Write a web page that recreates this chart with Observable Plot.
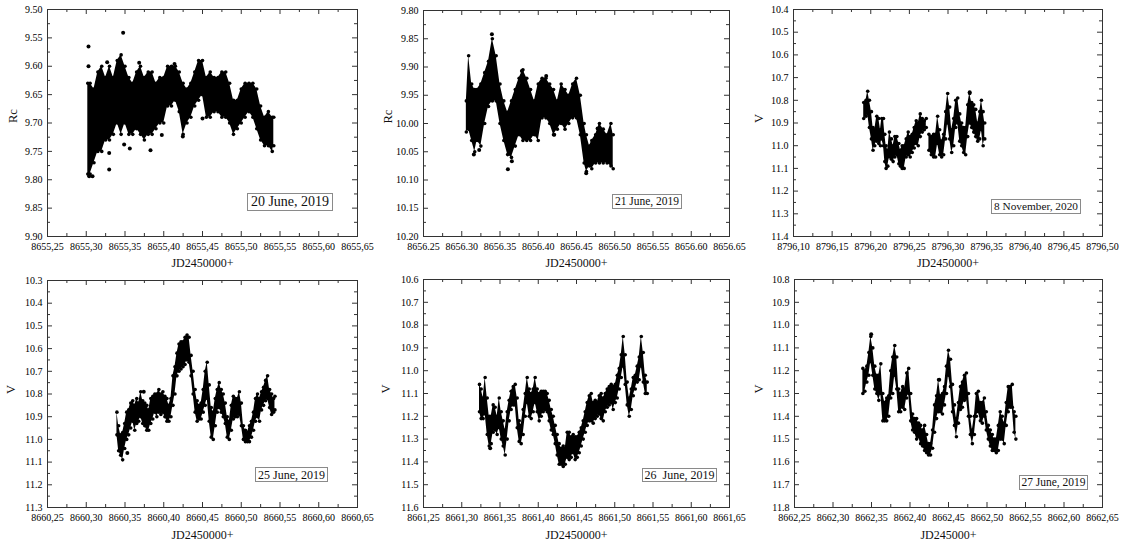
<!DOCTYPE html>
<html><head><meta charset="utf-8">
<script src="https://cdn.jsdelivr.net/npm/d3@7"></script>
<script src="https://cdn.jsdelivr.net/npm/@observablehq/plot@0.6"></script>
<style>
body{margin:0;background:#fff;}
#wrap{position:relative;width:1123px;height:544px;background:#fff;overflow:hidden;font-family:'Liberation Serif','Times New Roman',serif;}
.panel{position:absolute;}
.panel svg, .panel svg text{font-family:'Liberation Serif','Times New Roman',serif !important;}
.tag{position:absolute;box-sizing:border-box;border:1px solid #8a8a8a;background:#fff;color:#111;white-space:pre;display:flex;align-items:center;justify-content:center;line-height:1;font-family:'Liberation Serif','Times New Roman',serif;}
</style></head><body><div id="wrap"></div>
<script>
// ---------- Panel 1: 20 June 2019 (Rc) ----------
const p1_t = [8655.302,8655.305,8655.310,8655.315,8655.320,8655.325,8655.330,8655.335,8655.340,8655.345,8655.350,8655.355,8655.360,8655.365,8655.370,8655.375,8655.380,8655.385,8655.390,8655.395,8655.400,8655.405,8655.410,8655.415,8655.420,8655.425,8655.430,8655.435,8655.440,8655.445,8655.450,8655.455,8655.460,8655.465,8655.470,8655.475,8655.480,8655.485,8655.490,8655.495,8655.500,8655.505,8655.510,8655.515,8655.520,8655.525,8655.530,8655.535,8655.540,8655.542];
const p1_top = [9.63,9.63,9.64,9.61,9.60,9.62,9.60,9.62,9.59,9.58,9.60,9.62,9.63,9.61,9.60,9.62,9.61,9.61,9.63,9.62,9.62,9.60,9.60,9.60,9.61,9.63,9.64,9.63,9.61,9.59,9.59,9.62,9.61,9.62,9.62,9.61,9.61,9.63,9.66,9.66,9.64,9.63,9.63,9.63,9.64,9.67,9.69,9.68,9.69,9.69];
const p1_bot = [9.79,9.79,9.77,9.75,9.75,9.73,9.73,9.72,9.70,9.72,9.70,9.72,9.72,9.71,9.72,9.73,9.72,9.72,9.71,9.70,9.70,9.67,9.67,9.66,9.68,9.72,9.70,9.69,9.67,9.66,9.65,9.69,9.69,9.68,9.68,9.69,9.69,9.70,9.72,9.71,9.70,9.69,9.68,9.69,9.71,9.73,9.74,9.74,9.75,9.74];
const p1_ot = [8655.3029,8655.3029,8655.3038,8655.3081,8655.3296,8655.3296,8655.3476,8655.3489,8655.3562,8655.3829,8655.3270,8655.3683,8655.4139,8655.5115,8655.4246,8655.3975,8655.4500];
const p1_om = [9.565,9.600,9.794,9.794,9.782,9.753,9.541,9.738,9.745,9.748,9.593,9.594,9.596,9.635,9.724,9.721,9.692];
const p1_xt = [8655.25,8655.30,8655.35,8655.40,8655.45,8655.50,8655.55,8655.60,8655.65];
const p1_yt = [9.50,9.55,9.60,9.65,9.70,9.75,9.80,9.85,9.90];

// ---------- Panel 2: 21 June 2019 (Rc) ----------
const p2_t = [8656.306,8656.309,8656.313,8656.317,8656.320,8656.325,8656.330,8656.335,8656.340,8656.345,8656.350,8656.355,8656.360,8656.365,8656.370,8656.375,8656.380,8656.385,8656.390,8656.395,8656.400,8656.405,8656.410,8656.415,8656.420,8656.425,8656.430,8656.435,8656.440,8656.445,8656.450,8656.455,8656.460,8656.463,8656.467,8656.470,8656.475,8656.480,8656.485,8656.490,8656.495,8656.498];
const p2_top = [9.96,9.88,9.93,9.94,9.94,9.93,9.91,9.89,9.85,9.88,9.93,9.96,9.98,9.96,9.94,9.92,9.905,9.92,9.94,9.96,9.93,9.92,9.92,9.93,9.94,9.96,9.93,9.94,9.95,9.93,9.92,9.95,10.00,10.02,10.04,10.03,10.02,10.00,10.01,10.02,10.00,10.02];
const p2_bot = [10.015,10.01,10.03,10.05,10.03,10.04,10.00,9.97,9.96,9.96,10.00,10.03,10.055,10.06,10.04,10.02,10.03,10.03,10.03,10.02,10.03,9.99,9.99,10.00,10.02,10.01,10.00,10.01,10.00,9.99,9.99,10.02,10.07,10.085,10.075,10.08,10.07,10.07,10.07,10.07,10.075,10.08];
const p2_ot = [8656.3394,8656.3158,8656.3228,8656.3603,8656.3655,8656.4209,8656.4627,8656.4776,8656.4104,8656.3786];
const p2_om = [9.842,10.055,10.047,10.081,10.067,10.020,10.088,10.009,9.916,9.907];
const p2_xt = [8656.25,8656.30,8656.35,8656.40,8656.45,8656.50,8656.55,8656.60,8656.65];
const p2_yt = [9.80,9.85,9.90,9.95,10.00,10.05,10.10,10.15,10.20];

// ---------- Panel 3: 8 November 2020 (V) ----------
const p3_t = [8796.1909,8796.1939,8796.1961,8796.1983,8796.2009,8796.2030,8796.2052,8796.2078,8796.2104,8796.2126,8796.2143,8796.2165,8796.2182,8796.2199,8796.2221,8796.2242,8796.2268,8796.2290,8796.2312,8796.2338,8796.2364,8796.2385,8796.2407,8796.2433,8796.2459,8796.2485,8796.2511,8796.2537,8796.2563,8796.2589,8796.2615,8796.2641,8796.2667,8796.2693,8796.2719,8796.2736,8796.2753,8796.2784,8796.2814,8796.2840,8796.2866,8796.2892,8796.2918,8796.2944,8796.2970,8796.2996,8796.3022,8796.3048,8796.3074,8796.3100,8796.3126,8796.3152,8796.3177,8796.3203,8796.3229,8796.3255,8796.3281,8796.3307,8796.3333,8796.3359,8796.3385,8796.3411,8796.3433,8796.3455,8796.3476];
const p3_top = [10.81,10.80,10.76,10.80,10.85,10.92,10.93,10.87,10.88,10.93,10.88,10.88,10.95,11.00,11.02,10.94,10.97,11.00,10.96,10.96,10.99,11.02,11.00,11.00,10.97,10.94,10.96,10.95,10.92,10.89,10.90,10.86,10.88,10.89,10.88,null,10.95,10.96,10.95,10.95,10.87,10.93,10.98,10.95,10.85,10.77,10.83,10.93,10.88,10.80,10.79,10.86,10.90,10.92,10.92,10.82,10.77,10.81,10.82,10.84,10.90,10.85,10.80,10.85,10.90];
const p3_bot = [10.88,10.87,10.86,10.92,10.97,11.02,11.00,10.98,10.99,11.00,10.97,11.00,11.07,11.10,11.09,11.05,11.06,11.07,11.05,11.04,11.08,11.09,11.10,11.10,11.05,11.04,11.05,11.03,11.01,10.99,11.00,10.96,10.94,10.93,10.92,null,11.02,11.04,11.05,11.05,10.99,11.04,11.05,11.04,10.97,10.90,10.97,11.03,11.00,10.92,10.90,10.98,11.00,11.03,11.04,10.96,10.90,10.92,10.94,10.96,10.98,10.97,10.93,11.00,10.97];
const p3_ot = [8796.3281];
const p3_om = [10.765];
const p3_xt = [8796.10,8796.15,8796.20,8796.25,8796.30,8796.35,8796.40,8796.45,8796.50];
const p3_yt = [10.4,10.5,10.6,10.7,10.8,10.9,11.0,11.1,11.2,11.3,11.4];

// ---------- Panel 4: 25 June 2019 (V) ----------
const p4_t = [8660.3396,8660.3418,8660.3444,8660.3470,8660.3496,8660.3522,8660.3548,8660.3574,8660.3600,8660.3626,8660.3652,8660.3677,8660.3703,8660.3729,8660.3755,8660.3781,8660.3807,8660.3833,8660.3859,8660.3885,8660.3911,8660.3937,8660.3963,8660.3989,8660.4015,8660.4041,8660.4067,8660.4093,8660.4119,8660.4145,8660.4171,8660.4197,8660.4223,8660.4249,8660.4275,8660.4301,8660.4327,8660.4353,8660.4379,8660.4405,8660.4431,8660.4457,8660.4483,8660.4509,8660.4535,8660.4561,8660.4587,8660.4613,8660.4639,8660.4665,8660.4690,8660.4716,8660.4742,8660.4768,8660.4794,8660.4820,8660.4846,8660.4872,8660.4898,8660.4924,8660.4950,8660.4976,8660.5002,8660.5028,8660.5054,8660.5080,8660.5106,8660.5132,8660.5158,8660.5184,8660.5210,8660.5236,8660.5262,8660.5288,8660.5314,8660.5340,8660.5366,8660.5392,8660.5418,8660.5435];
const p4_top = [10.88,10.94,10.98,10.97,10.93,10.88,10.87,10.84,10.83,10.85,10.82,10.84,10.79,10.83,10.84,10.85,10.87,10.82,10.81,10.80,10.80,10.78,10.80,10.79,10.81,10.82,10.85,10.82,10.72,10.68,10.62,10.58,10.57,10.57,10.55,10.54,10.55,10.63,10.70,10.78,10.83,10.85,10.84,10.78,10.70,10.66,10.76,10.86,10.88,10.82,10.78,10.75,10.78,10.80,10.84,10.90,10.92,10.85,10.81,10.82,10.82,10.79,10.84,10.94,10.96,10.97,10.94,10.92,10.88,10.82,10.80,10.82,10.79,10.77,10.74,10.72,10.78,10.80,10.82,10.81];
const p4_bot = [10.98,11.05,11.07,11.09,11.04,11.00,10.98,10.95,10.92,10.96,10.93,10.92,10.90,10.93,10.94,10.96,10.96,10.93,10.91,10.88,10.90,10.88,10.89,10.88,10.90,10.92,10.92,10.90,10.85,10.80,10.72,10.70,10.69,10.68,10.67,10.65,10.66,10.72,10.80,10.88,10.92,10.91,10.91,10.88,10.85,10.82,10.92,10.99,11.00,10.94,10.88,10.86,10.88,10.90,10.93,10.99,11.00,10.96,10.91,10.90,10.90,10.89,10.94,11.00,11.01,11.01,11.01,10.99,10.96,10.92,10.90,10.92,10.87,10.85,10.83,10.82,10.86,10.89,10.88,10.87];
const p4_ot = [8660.3530,8660.3742];
const p4_om = [11.06,10.79];
const p4_xt = [8660.25,8660.30,8660.35,8660.40,8660.45,8660.50,8660.55,8660.60,8660.65];
const p4_yt = [10.3,10.4,10.5,10.6,10.7,10.8,10.9,11.0,11.1,11.2,11.3];

// ---------- Panel 5: 26 June 2019 (V) ----------
const p5_t = [8661.3232,8661.3254,8661.3280,8661.3306,8661.3333,8661.3359,8661.3385,8661.3411,8661.3437,8661.3463,8661.3490,8661.3516,8661.3542,8661.3568,8661.3594,8661.3620,8661.3646,8661.3673,8661.3699,8661.3725,8661.3751,8661.3777,8661.3803,8661.3830,8661.3856,8661.3882,8661.3908,8661.3934,8661.3960,8661.3986,8661.4013,8661.4039,8661.4065,8661.4091,8661.4117,8661.4143,8661.4170,8661.4196,8661.4222,8661.4248,8661.4274,8661.4300,8661.4327,8661.4353,8661.4379,8661.4405,8661.4431,8661.4457,8661.4483,8661.4510,8661.4536,8661.4562,8661.4588,8661.4614,8661.4640,8661.4667,8661.4693,8661.4719,8661.4745,8661.4771,8661.4797,8661.4823,8661.4850,8661.4876,8661.4902,8661.4928,8661.4954,8661.4980,8661.5007,8661.5033,8661.5059,8661.5085,8661.5111,8661.5137,8661.5163,8661.5190,8661.5216,8661.5242,8661.5268,8661.5294,8661.5320,8661.5347,8661.5373,8661.5399,8661.5425];
const p5_top = [11.06,11.08,11.12,11.03,11.12,11.20,11.20,11.15,11.16,11.20,11.12,11.18,11.22,11.26,11.18,11.13,11.09,11.07,11.06,11.12,11.22,11.24,11.17,11.10,11.03,11.08,11.10,11.08,11.03,11.08,11.10,11.09,11.09,11.09,11.10,11.13,11.17,11.20,11.24,11.28,11.32,11.34,11.33,11.34,11.27,11.27,11.29,11.28,11.29,11.29,11.27,11.25,11.22,11.18,11.14,11.11,11.10,11.14,11.13,11.14,11.11,11.10,11.12,11.10,11.08,11.07,11.06,11.07,11.06,11.02,10.99,10.93,10.85,10.93,11.05,11.12,11.08,11.03,11.02,10.98,10.94,10.85,10.92,11.02,11.05];
const p5_bot = [11.18,11.21,11.21,11.19,11.28,11.33,11.32,11.27,11.26,11.28,11.25,11.30,11.33,11.37,11.30,11.22,11.17,11.15,11.15,11.25,11.31,11.32,11.28,11.20,11.14,11.20,11.21,11.18,11.14,11.18,11.22,11.20,11.18,11.17,11.18,11.22,11.26,11.28,11.32,11.37,11.41,11.41,11.42,11.41,11.38,11.39,11.38,11.36,11.39,11.38,11.36,11.33,11.30,11.27,11.24,11.22,11.22,11.23,11.21,11.20,11.19,11.21,11.22,11.18,11.16,11.15,11.14,11.17,11.14,11.12,11.08,11.03,10.98,11.06,11.15,11.20,11.17,11.11,11.08,11.05,11.04,10.98,11.05,11.10,11.10];
const p5_ot = [8661.3372];
const p5_om = [11.34];
const p5_xt = [8661.25,8661.30,8661.35,8661.40,8661.45,8661.50,8661.55,8661.60,8661.65];
const p5_yt = [10.6,10.7,10.8,10.9,11.0,11.1,11.2,11.3,11.4,11.5,11.6];

// ---------- Panel 6: 27 June 2019 (V) ----------
const p6_t = [8662.3388,8662.3414,8662.3440,8662.3466,8662.3491,8662.3517,8662.3543,8662.3569,8662.3595,8662.3621,8662.3647,8662.3672,8662.3698,8662.3724,8662.3750,8662.3776,8662.3802,8662.3828,8662.3853,8662.3879,8662.3905,8662.3931,8662.3957,8662.3983,8662.4009,8662.4034,8662.4060,8662.4086,8662.4112,8662.4138,8662.4164,8662.4190,8662.4216,8662.4241,8662.4267,8662.4293,8662.4319,8662.4345,8662.4371,8662.4397,8662.4422,8662.4448,8662.4474,8662.4500,8662.4526,8662.4552,8662.4578,8662.4603,8662.4629,8662.4655,8662.4681,8662.4707,8662.4733,8662.4759,8662.4784,8662.4810,8662.4836,8662.4862,8662.4888,8662.4914,8662.4940,8662.4966,8662.4991,8662.5017,8662.5043,8662.5069,8662.5095,8662.5121,8662.5147,8662.5172,8662.5198,8662.5224,8662.5250,8662.5276,8662.5302,8662.5328,8662.5353,8662.5375];
const p6_top = [11.19,11.20,11.18,11.12,11.05,11.10,11.18,11.22,11.22,11.17,11.30,11.34,11.32,11.31,11.20,11.14,11.09,11.14,11.28,11.30,11.27,11.28,11.21,11.19,11.30,11.39,11.41,11.41,11.43,11.44,11.46,11.44,11.48,11.52,11.52,11.46,11.35,11.31,11.24,11.31,11.30,11.27,11.18,11.11,11.15,11.26,11.35,11.41,11.34,11.27,11.25,11.22,11.21,11.30,11.40,11.46,11.40,11.30,11.29,11.34,11.34,11.32,11.38,11.44,11.46,11.48,11.50,11.50,11.44,11.38,11.40,11.43,11.34,11.27,11.27,11.26,11.38,11.40];
const p6_bot = [11.30,11.29,11.25,11.22,11.16,11.22,11.28,11.30,11.33,11.30,11.42,11.42,11.42,11.40,11.32,11.30,11.22,11.28,11.38,11.38,11.36,11.37,11.32,11.30,11.42,11.46,11.47,11.50,11.49,11.52,11.53,11.55,11.56,11.57,11.57,11.54,11.47,11.41,11.38,11.38,11.39,11.35,11.30,11.22,11.27,11.38,11.44,11.49,11.43,11.37,11.36,11.33,11.32,11.40,11.48,11.52,11.48,11.40,11.38,11.42,11.43,11.40,11.46,11.50,11.53,11.55,11.55,11.56,11.55,11.50,11.50,11.52,11.44,11.38,11.36,11.36,11.47,11.50];
const p6_ot = [8662.4380,8662.3496];
const p6_om = [11.24,11.04];
const p6_xt = [8662.25,8662.30,8662.35,8662.40,8662.45,8662.50,8662.55,8662.60,8662.65];
const p6_yt = [10.8,10.9,11.0,11.1,11.2,11.3,11.4,11.5,11.6,11.7,11.8];

// ---------- labels ----------
const dates = ["20 June, 2019","21 June, 2019","8 November, 2020","25 June, 2019","26  June, 2019","27 June, 2019"];
const yLabels = ["Rc","Rc","V","V","V","V"];
const xLabels = ["JD2450000+","JD2450000+","JD2450000+","JD2450000+","JD2450000+","JD245000+"];

const comma = d => d.toFixed(2).replace(".", ",");
const dot2 = d => d.toFixed(2);
const dot1 = d => d.toFixed(1);

// layout only
const panels = [
  {t:p1_t, top:p1_top, bot:p1_bot, ot:p1_ot, om:p1_om, xt:p1_xt, yt:p1_yt, xf:comma, yf:dot2,
   left:0, topPx:0, ml:47, mr:18, mt:9, mb:36, ydx:-35, xdy:27, tag:{l:247,t:193,w:86,h:18,f:14}},
  {t:p2_t, top:p2_top, bot:p2_bot, ot:p2_ot, om:p2_om, xt:p2_xt, yt:p2_yt, xf:dot2, yf:dot2,
   left:375, topPx:0, ml:48, mr:21, mt:10, mb:36, ydx:-36, xdy:27, tag:{l:612,t:194,w:70,h:15,f:11.5}},
  {t:p3_t, top:p3_top, bot:p3_bot, ot:p3_ot, om:p3_om, xt:p3_xt, yt:p3_yt, xf:comma, yf:dot1,
   left:748, topPx:0, ml:45, mr:21, mt:9, mb:36, ydx:-35, xdy:27, tag:{l:991,t:199,w:90,h:15,f:11.3}},
  {t:p4_t, top:p4_top, bot:p4_bot, ot:p4_ot, om:p4_om, xt:p4_xt, yt:p4_yt, xf:comma, yf:dot1,
   left:0, topPx:272, ml:47, mr:18, mt:8, mb:37, ydx:-37, xdy:28, tag:{l:255,t:467,w:73,h:15,f:12}},
  {t:p5_t, top:p5_top, bot:p5_bot, ot:p5_ot, om:p5_om, xt:p5_xt, yt:p5_yt, xf:comma, yf:dot1,
   left:375, topPx:272, ml:48, mr:21, mt:7, mb:37, ydx:-38, xdy:28, tag:{l:642,t:468,w:75,h:14,f:12}},
  {t:p6_t, top:p6_top, bot:p6_bot, ot:p6_ot, om:p6_om, xt:p6_xt, yt:p6_yt, xf:comma, yf:dot1,
   left:748, topPx:272, ml:46, mr:21, mt:7, mb:37, ydx:-36, xdy:28, tag:{l:1019,t:475,w:69,h:15,f:11.5}}
];

const wrap = document.getElementById("wrap");
const W = 375, H = 272;
const serif = "Liberation Serif, Times New Roman, serif";
panels.forEach((p, k) => {
  const band = p.t.map((t, i) => ({t, lo: p.top[i], hi: p.bot[i]}));
  const outl = p.ot.map((t, i) => ({t, m: p.om[i]}));
  const xMinor = d3.pairs(p.xt, (a, b) => (a + b) / 2);
  const yMinor = d3.pairs(p.yt, (a, b) => (a + b) / 2);
  const ph = H - p.mt - p.mb, pw = W - p.ml - p.mr;
  const ink = "#000";
  const chart = Plot.plot({
    width: W, height: H,
    marginLeft: p.ml, marginRight: p.mr, marginTop: p.mt, marginBottom: p.mb,
    style: {fontFamily: serif, fontSize: "10px", color: "#000", background: "transparent", overflow: "visible"},
    x: {domain: [p.xt[0], p.xt[p.xt.length - 1]]},
    y: {domain: [p.yt[0], p.yt[p.yt.length - 1]], reverse: true},
    marks: [
      Plot.areaY(band, {x: "t", y1: "lo", y2: "hi", fill: ink, curve: "linear"}),
      Plot.dot(band, {x: "t", y: "lo", r: 1.8, fill: ink}),
      Plot.dot(band, {x: "t", y: "hi", r: 1.8, fill: ink}),
      Plot.dot(outl, {x: "t", y: "m", r: 2, fill: ink}),
      Plot.frame({stroke: "#333", strokeWidth: 1}),
      Plot.ruleX(p.xt, {x: d => d, insetTop: ph - 5, stroke: "#333"}),
      Plot.ruleX(p.xt, {x: d => d, insetBottom: ph - 5, stroke: "#333"}),
      Plot.ruleX(xMinor, {x: d => d, insetTop: ph - 3, stroke: "#333"}),
      Plot.ruleX(xMinor, {x: d => d, insetBottom: ph - 3, stroke: "#333"}),
      Plot.ruleY(p.yt, {y: d => d, insetRight: pw - 5, stroke: "#333"}),
      Plot.ruleY(p.yt, {y: d => d, insetLeft: pw - 5, stroke: "#333"}),
      Plot.ruleY(yMinor, {y: d => d, insetRight: pw - 3, stroke: "#333"}),
      Plot.ruleY(yMinor, {y: d => d, insetLeft: pw - 3, stroke: "#333"}),
      Plot.axisX(p.xt, {anchor: "bottom", tickSize: 0, tickPadding: 6, tickFormat: p.xf, label: null, fontFamily: serif}),
      Plot.axisY(p.yt, {anchor: "left", tickSize: 0, tickPadding: 5, tickFormat: p.yf, label: null, fontFamily: serif}),
      Plot.text([xLabels[k]], {frameAnchor: "bottom", dy: p.xdy, text: d => d, fontSize: 12, fontFamily: serif, lineAnchor: "middle", fill: "#111"}),
      Plot.text([yLabels[k]], {frameAnchor: "left", dx: p.ydx, text: d => d, fontSize: 12.5, fontFamily: serif, rotate: -90, fill: "#111"})
    ]
  });
  const holder = document.createElement("div");
  holder.className = "panel";
  holder.style.left = p.left + "px";
  holder.style.top = p.topPx + "px";
  holder.appendChild(chart);
  wrap.appendChild(holder);

  const tg = document.createElement("div");
  tg.className = "tag";
  tg.style.left = p.tag.l + "px";
  tg.style.top = p.tag.t + "px";
  tg.style.width = p.tag.w + "px";
  tg.style.height = p.tag.h + "px";
  tg.style.fontSize = p.tag.f + "px";
  tg.textContent = dates[k];
  wrap.appendChild(tg);
});
</script></body></html>
